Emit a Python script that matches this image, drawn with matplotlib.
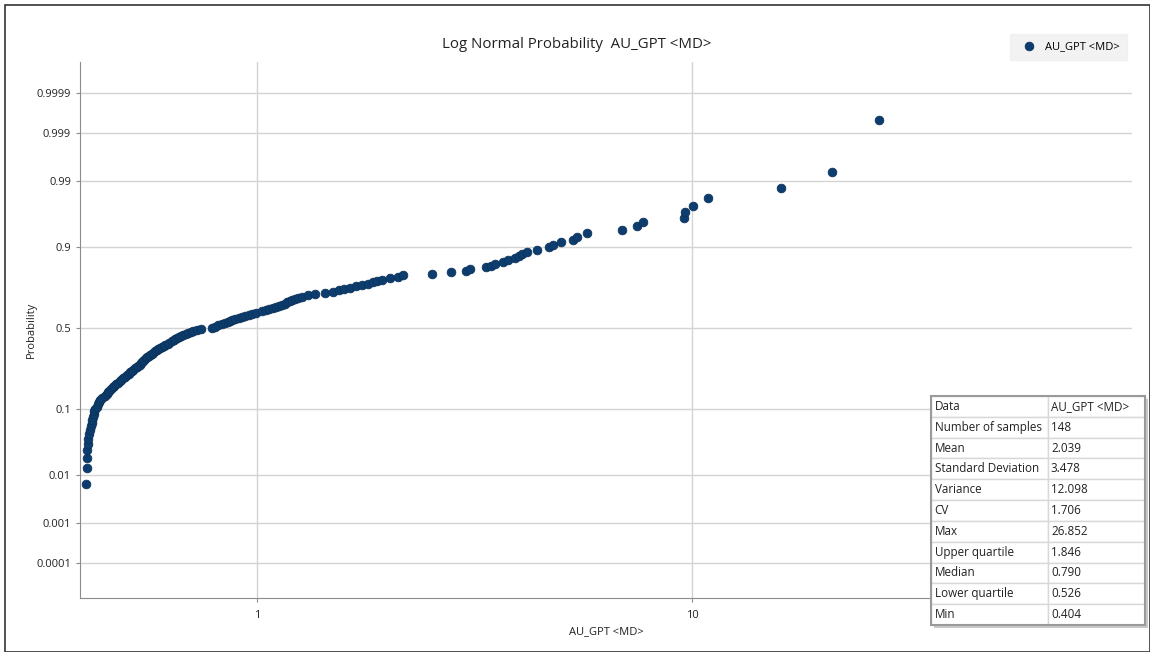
import numpy as np
import matplotlib
matplotlib.use("Agg")
import matplotlib.pyplot as plt
from matplotlib.patches import Rectangle
from statistics import NormalDist

plt.rcParams['font.family'] = ['Open Sans', 'DejaVu Sans']

# valeurs triees, rang 1..148
au_gpt = [0.404, 0.406, 0.407, 0.407, 0.408, 0.409, 0.411, 0.413, 0.415, 0.417,
          0.418, 0.419, 0.421, 0.423, 0.425, 0.428, 0.430, 0.433, 0.436, 0.441,
          0.447, 0.451, 0.454, 0.458, 0.461, 0.466, 0.470, 0.474, 0.479, 0.484,
          0.488, 0.493, 0.497, 0.502, 0.507, 0.511, 0.516, 0.520, 0.524, 0.529,
          0.533, 0.537, 0.540, 0.544, 0.547, 0.551, 0.555, 0.560, 0.564, 0.568,
          0.573, 0.578, 0.583, 0.588, 0.593, 0.598, 0.604, 0.610, 0.616, 0.623,
          0.629, 0.636, 0.643, 0.649, 0.656, 0.662, 0.669, 0.676, 0.685, 0.695,
          0.704, 0.714, 0.726, 0.744, 0.788, 0.801, 0.814, 0.831, 0.844, 0.856,
          0.867, 0.876, 0.890, 0.907, 0.924, 0.939, 0.956, 0.974, 0.995, 1.027,
          1.049, 1.068, 1.088, 1.106, 1.126, 1.141, 1.157, 1.172, 1.188, 1.203,
          1.223, 1.242, 1.269, 1.310, 1.359, 1.433, 1.496, 1.546, 1.588, 1.636,
          1.690, 1.744, 1.801, 1.848, 1.888, 1.940, 2.016, 2.109,
          2.166, 2.526, 2.793, 3.03, 3.08, 3.36, 3.45, 3.53, 3.68, 3.78,
          3.92, 4.00, 4.07, 4.18, 4.40, 4.70, 4.79, 5.00, 5.33, 5.44,
          5.74, 6.90, 7.48, 7.72, 9.58, 9.64, 10.05, 10.88, 16.02, 20.98]
max_value = 26.852
max_prob = 0.9995   # position lue du point max

prob_ticks = [0.0001, 0.001, 0.01, 0.1, 0.5, 0.9, 0.99, 0.999, 0.9999]
prob_labels = ['0.0001', '0.001', '0.01', '0.1', '0.5', '0.9', '0.99', '0.999', '0.9999']
x_ticks = [1, 10]
x_labels = ['1', '10']

stat_names = ['Data', 'Number of samples', 'Mean', 'Standard Deviation', 'Variance',
              'CV', 'Max', 'Upper quartile', 'Median', 'Lower quartile', 'Min']
stat_values = ['AU_GPT <MD>', '148', '2.039', '3.478', '12.098', '1.706', '26.852',
               '1.846', '0.790', '0.526', '0.404']

nd = NormalDist()
n = len(au_gpt)
z_pts = [nd.inv_cdf((i + 1) / (n + 1)) for i in range(n)]
x_pts = list(au_gpt) + [max_value]
z_pts = z_pts + [nd.inv_cdf(max_prob)]

W, H = 1150, 652
fig = plt.figure(figsize=(W / 100, H / 100), dpi=100)
fig.patch.set_facecolor('white')
ax = fig.add_axes([80 / W, 1 - 598 / H, (1132 - 80) / W, (598 - 62) / H])

dot = '#0c3d6e'
ax.scatter(x_pts, z_pts, s=40, color=dot, edgecolors='#0a3158', linewidths=0.5,
           zorder=3, label='AU_GPT <MD>')

ax.set_xscale('log')
ax.set_xlim(0.3918, 102.6)
ax.set_ylim(-4.27, 4.21)
ax.set_xticks(x_ticks)
ax.set_xticklabels(x_labels)
ax.xaxis.set_minor_locator(matplotlib.ticker.NullLocator())
ax.set_yticks([nd.inv_cdf(p) for p in prob_ticks])
ax.set_yticklabels(prob_labels)

ax.grid(True, color='#d4d4d4', linewidth=1)
ax.set_axisbelow(True)
for s in ['top', 'right']:
    ax.spines[s].set_visible(False)
for s in ['left', 'bottom']:
    ax.spines[s].set_color('#8c8c8c')
ax.tick_params(axis='both', labelsize=8, colors='#8c8c8c', length=3, labelcolor='#222222')
ax.tick_params(axis='x', pad=6)

ax.set_xlabel('AU_GPT <MD>', fontsize=8, color='#222222', labelpad=3)
ax.set_ylabel('Probability', fontsize=8, color='#222222', labelpad=-6)
ax.yaxis.set_label_coords(-43 / (1132 - 80), 0.5)
fig.text(577 / W, 1 - 45 / H, 'Log Normal Probability  AU_GPT <MD>', ha='center', va='center',
         fontsize=10.8, color='#222222')

ax.legend(loc='upper right', bbox_to_anchor=(1133 / W, 1 - 28 / H), bbox_transform=fig.transFigure,
          frameon=True, facecolor='#efefef', edgecolor='#efefef', fancybox=False,
          fontsize=8, handletextpad=0.4, markerscale=1.0, borderpad=0.7)

# tableau de stats
tx0, ty0, tw, th = 931, 396, 214, 229
fig.patches.append(Rectangle(((tx0 + 3) / W, 1 - (ty0 + th + 3) / H), tw / W, th / H,
                             transform=fig.transFigure, facecolor='#c8c8c8', edgecolor='none', zorder=5))
tax = fig.add_axes([tx0 / W, 1 - (ty0 + th) / H, tw / W, th / H], zorder=6)
tax.axis('off')
rows = [[a, b] for a, b in zip(stat_names, stat_values)]
tbl = tax.table(cellText=rows, bbox=[0, 0, 1, 1], colWidths=[117 / 214, 97 / 214], cellLoc='left')
tbl.auto_set_font_size(False)
tbl.set_fontsize(8.4)
for (r, c), cell in tbl.get_celld().items():
    cell.set_edgecolor('#d8d8d8')
    cell.set_facecolor('white')
    cell.PAD = 0.03
    cell.get_text().set_color('#222222')
tax.add_patch(Rectangle((0, 0), 1, 1, transform=tax.transAxes, fill=False,
                        edgecolor='#9a9a9a', linewidth=1.5, clip_on=False))

# cadre de la figure
fig.patches.append(Rectangle((5 / W, 0.5 / H), (W - 5.5) / W, (H - 5) / H, transform=fig.transFigure,
                             fill=False, edgecolor='#333333', linewidth=1.2))

fig.savefig('out.png', dpi=100)
